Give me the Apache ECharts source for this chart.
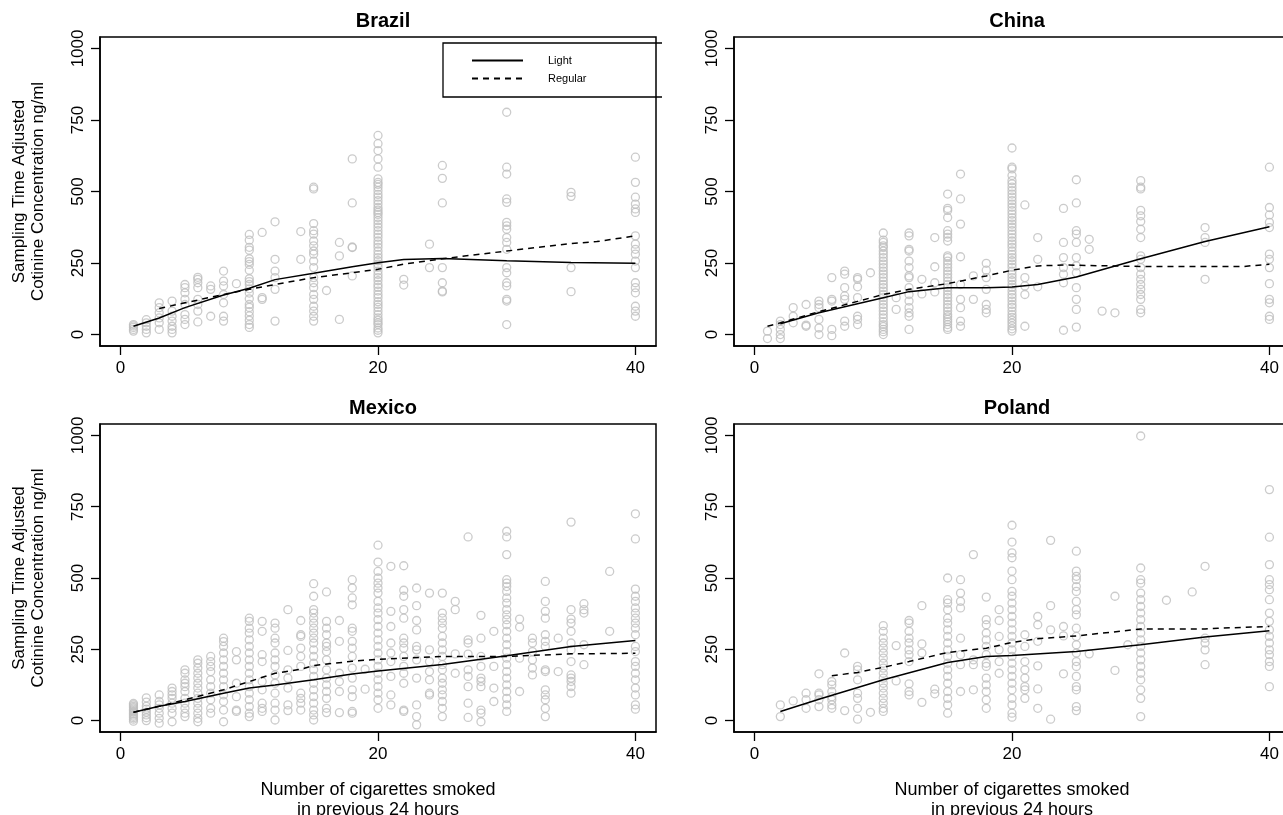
<!DOCTYPE html>
<html>
<head>
<meta charset="utf-8">
<script src="https://cdn.jsdelivr.net/npm/echarts@6/dist/echarts.min.js"></script>
<style>
  html, body { margin: 0; padding: 0; background: #fff; }
  #chart { width: 1283px; height: 815px; }
</style>
</head>
<body>
<div id="chart"></div>
<script>
// tick labels
var xTicks = [0, 20, 40];
var yTicks = [0, 250, 500, 750, 1000];

// Brazil: x columns and the cotinine values read at each column
var brazilX = [1, 2, 3, 4, 5, 6, 7, 8, 9, 10, 11, 12, 14, 15, 16, 17, 18, 20, 22, 24, 25, 30, 35, 40];
var brazilY = [
	[12, 18, 25, 30, 35],
	[6, 18, 29, 41, 52],
	[18, 41, 58, 76, 94, 111],
	[6, 18, 29, 47, 64, 82, 117],
	[35, 53, 70, 105, 123, 146, 164, 175],
	[44, 82, 105, 123, 164, 181, 193, 200],
	[64, 158, 170],
	[47, 64, 111, 140, 170, 187, 222],
	[178],
	[25, 35, 50, 65, 80, 95, 105, 125, 145, 160, 175, 185, 195, 225, 245, 255, 265, 295, 305, 330, 350],
	[123, 129, 357],
	[47, 158, 199, 222, 263, 394],
	[263, 360],
	[47, 64, 82, 99, 123, 140, 164, 181, 199, 234, 257, 281, 292, 310, 327, 351, 363, 388, 509, 515],
	[154],
	[53, 275, 322],
	[205, 304, 306, 460, 614],
	[6, 15, 23, 35, 41, 50, 58, 70, 82, 95, 105, 115, 129, 140, 152, 165, 175, 188, 199, 210, 222, 235, 246, 258, 269, 280, 292, 305, 316, 327, 340, 351, 363, 375, 386, 398, 409, 420, 427, 435, 444, 456, 468, 480, 490, 503, 515, 525, 532, 544, 585, 614, 643, 667, 696],
	[173, 193],
	[234, 316],
	[149, 152, 181, 234, 460, 546, 591],
	[35, 117, 123, 170, 181, 216, 234, 298, 322, 339, 368, 380, 392, 462, 474, 561, 585, 777],
	[150, 234, 483, 497],
	[64, 82, 99, 146, 164, 181, 234, 257, 281, 298, 316, 345, 427, 439, 456, 480, 532, 620]
];
var brazilLightX = [1, 3, 5, 8, 10, 12, 15, 18, 20, 22, 25, 30, 35, 40];
var brazilLight = [29, 58, 94, 138, 162, 192, 214, 237, 251, 262, 266, 258, 252, 249];
var brazilRegularX = [3, 5, 8, 10, 12, 15, 18, 20, 22, 25, 30, 35, 37, 40];
var brazilRegular = [91, 111, 140, 158, 175, 199, 216, 228, 246, 265, 292, 318, 325, 345];

// China
var chinaX = [1, 2, 3, 4, 5, 6, 7, 8, 9, 10, 11, 12, 13, 14, 15, 16, 17, 18, 20, 21, 22, 24, 25, 26, 27, 28, 30, 35, 40];
var chinaY = [
	[-14, 12],
	[-14, 0, 18, 35, 47],
	[41, 64, 94],
	[29, 33, 105],
	[0, 23, 53, 94, 105, 117],
	[-4, 18, 117, 123, 199],
	[29, 47, 123, 135, 164, 211, 222],
	[35, 53, 64, 129, 167, 193, 199],
	[216],
	[0, 10, 18, 28, 35, 45, 58, 70, 82, 94, 105, 117, 129, 140, 152, 164, 175, 187, 199, 211, 222, 234, 246, 257, 269, 281, 292, 304, 310, 322, 330, 355],
	[88, 129],
	[18, 64, 76, 94, 117, 140, 164, 199, 205, 234, 257, 292, 298, 345, 355],
	[142, 193],
	[149, 181, 237, 339],
	[18, 25, 35, 45, 53, 62, 70, 82, 94, 105, 117, 129, 140, 152, 164, 175, 187, 199, 211, 222, 234, 246, 257, 269, 275, 327, 340, 351, 363, 409, 434, 441, 491],
	[29, 47, 94, 123, 175, 272, 386, 474, 561],
	[123, 205],
	[76, 88, 105, 158, 199, 225, 249],
	[12, 20, 30, 40, 50, 60, 70, 82, 95, 105, 117, 129, 140, 152, 165, 175, 188, 199, 210, 222, 235, 246, 258, 269, 280, 292, 305, 316, 327, 339, 351, 363, 375, 386, 398, 409, 421, 433, 445, 456, 468, 480, 491, 503, 515, 527, 538, 556, 579, 585, 652],
	[29, 140, 170, 199, 453],
	[167, 263, 339],
	[15, 181, 211, 234, 269, 322, 441],
	[26, 88, 123, 164, 216, 240, 269, 322, 351, 363, 460, 541],
	[298, 333],
	[82],
	[76],
	[76, 88, 123, 140, 158, 175, 193, 211, 234, 263, 275, 339, 368, 395, 415, 434, 509, 515, 538],
	[193, 322, 339, 374],
	[53, 64, 111, 123, 178, 234, 263, 281, 374, 392, 418, 444, 585]
];
var chinaLightX = [2, 5, 8, 10, 12, 15, 18, 20, 22, 25, 30, 35, 40];
var chinaLight = [38, 76, 108, 129, 150, 164, 164, 166, 175, 201, 265, 325, 377];
var chinaRegularX = [1, 2, 5, 8, 10, 12, 15, 18, 20, 22, 24, 30, 35, 38, 40];
var chinaRegular = [29, 41, 80, 116, 140, 158, 178, 205, 225, 240, 243, 238, 238, 238, 246];

// Mexico
var mexicoX = [1, 2, 3, 4, 5, 6, 7, 8, 9, 10, 11, 12, 13, 14, 15, 16, 17, 18, 19, 20, 21, 22, 23, 24, 25, 26, 27, 28, 29, 30, 31, 32, 33, 34, 35, 36, 38, 40];
var mexicoY = [
	[-2, 5, 10, 15, 20, 25, 30, 35, 40, 45, 50, 55, 60],
	[0, 10, 20, 30, 40, 50, 65, 80],
	[-9, 8, 26, 43, 55, 67, 90],
	[-4, 26, 43, 61, 78, 90, 102, 114],
	[14, 26, 43, 61, 78, 102, 119, 131, 143, 166, 178],
	[-4, 8, 26, 43, 61, 78, 96, 114, 131, 149, 166, 184, 201, 213],
	[26, 43, 73, 96, 119, 143, 172, 190, 207, 225],
	[-4, 37, 67, 90, 119, 143, 166, 190, 213, 237, 260, 277, 289],
	[32, 37, 84, 131, 213, 242],
	[14, 26, 49, 73, 96, 119, 143, 166, 190, 213, 237, 260, 283, 307, 324, 348, 359],
	[32, 43, 61, 108, 137, 207, 231, 313, 348],
	[2, 37, 61, 96, 131, 160, 190, 213, 237, 272, 289, 324, 342],
	[35, 55, 114, 149, 178, 246, 389],
	[37, 61, 78, 96, 190, 225, 254, 295, 301, 351],
	[2, 20, 37, 61, 84, 108, 131, 155, 178, 201, 225, 248, 272, 289, 307, 324, 342, 359, 377, 389, 436, 480],
	[28, 43, 78, 102, 125, 149, 178, 213, 242, 260, 272, 301, 324, 348, 451],
	[28, 102, 137, 166, 278, 351],
	[26, 32, 84, 108, 149, 184, 225, 254, 278, 313, 324, 406, 430, 465, 494],
	[110, 180],
	[43, 73, 96, 119, 143, 166, 190, 213, 237, 260, 283, 307, 330, 354, 377, 395, 418, 447, 465, 482, 500, 523, 556, 615],
	[55, 90, 155, 207, 237, 272, 330, 383, 541],
	[32, 37, 131, 166, 190, 225, 254, 272, 289, 359, 389, 436, 457, 543],
	[-15, 14, 55, 149, 213, 248, 260, 318, 351, 403, 465],
	[90, 96, 143, 172, 207, 248, 447],
	[14, 43, 67, 90, 108, 131, 149, 178, 196, 225, 248, 272, 295, 324, 342, 359, 377, 447],
	[166, 234, 389, 418],
	[11, 61, 119, 155, 178, 233, 272, 283, 644],
	[-4, 26, 37, 119, 137, 149, 190, 225, 289, 369],
	[67, 114, 190, 313],
	[32, 55, 78, 102, 125, 149, 172, 196, 219, 242, 266, 289, 313, 336, 354, 371, 389, 412, 430, 453, 470, 482, 494, 582, 644, 664],
	[102, 219, 328, 356],
	[160, 184, 213, 242, 272, 289],
	[14, 43, 73, 90, 108, 172, 178, 260, 278, 301, 359, 383, 418, 488],
	[172, 289],
	[96, 119, 137, 149, 160, 207, 248, 272, 313, 342, 356, 389, 696],
	[196, 266, 377, 389, 410],
	[313, 523],
	[40, 55, 90, 114, 143, 166, 190, 207, 242, 260, 301, 324, 342, 359, 377, 395, 418, 436, 461, 637, 725]
];
var mexicoLightX = [1, 3, 5, 8, 10, 12, 15, 18, 20, 25, 30, 35, 40];
var mexicoLight = [29, 50, 67, 96, 114, 125, 143, 163, 174, 197, 227, 260, 281];
var mexicoRegularX = [1, 3, 5, 8, 10, 12, 14, 15, 18, 20, 25, 30, 35, 40];
var mexicoRegular = [29, 50, 73, 108, 137, 166, 180, 193, 208, 215, 225, 225, 234, 236];

// Poland
var polandX = [2, 3, 4, 5, 6, 7, 8, 9, 10, 11, 12, 13, 14, 15, 16, 17, 18, 19, 20, 21, 22, 23, 24, 25, 26, 28, 29, 30, 32, 34, 35, 40];
var polandY = [
	[14, 55],
	[69],
	[43, 73, 96],
	[49, 73, 90, 96, 164],
	[43, 55, 73, 84, 102, 125, 137],
	[35, 237],
	[5, 43, 78, 96, 143, 178, 190],
	[29],
	[32, 43, 61, 78, 96, 114, 131, 149, 166, 184, 201, 219, 237, 254, 272, 289, 313, 333],
	[139, 263],
	[90, 102, 129, 207, 231, 248, 272, 289, 313, 342, 351],
	[64, 237, 269, 403],
	[94, 110],
	[26, 55, 78, 102, 131, 155, 178, 201, 225, 248, 272, 295, 318, 342, 359, 389, 412, 424, 500],
	[102, 196, 231, 289, 395, 418, 447, 494],
	[108, 196, 213, 582],
	[43, 73, 102, 125, 149, 190, 201, 231, 260, 283, 307, 336, 354, 433],
	[166, 207, 248, 295, 351, 389],
	[12, 26, 55, 78, 108, 131, 155, 178, 201, 225, 248, 272, 295, 318, 342, 365, 389, 412, 436, 453, 494, 524, 571, 588, 626, 685],
	[78, 108, 119, 149, 178, 207, 260, 301],
	[43, 111, 192, 278, 336, 365],
	[5, 318, 403, 632],
	[164, 297, 330],
	[35, 49, 108, 119, 155, 190, 207, 237, 266, 295, 324, 371, 389, 418, 453, 470, 494, 506, 524, 594],
	[234],
	[176, 436],
	[266],
	[14, 78, 108, 143, 166, 190, 213, 237, 260, 283, 307, 330, 354, 377, 400, 424, 447, 482, 494, 535, 998],
	[422],
	[451],
	[196, 248, 272, 289, 541],
	[119, 190, 207, 231, 248, 272, 295, 318, 348, 377, 424, 459, 477, 494, 547, 643, 810]
];
var polandLightX = [2, 5, 10, 15, 18, 20, 25, 30, 35, 40];
var polandLight = [32, 75, 143, 204, 225, 228, 242, 266, 293, 315];
var polandRegularX = [6, 8, 10, 12, 15, 18, 20, 22, 25, 30, 35, 36, 40];
var polandRegular = [157, 169, 187, 207, 239, 254, 274, 287, 297, 321, 321, 324, 330];

function columns(xs, ys) {
	var out = [];
	xs.forEach(function (x, i) {
		ys[i].forEach(function (v) {
			out.push([x, v]);
		});
	});
	return out;
}

function pairs(xs, ys) {
	return xs.map(function (x, i) {
		return [x, ys[i]];
	});
}

var FONT = "'Liberation Sans', Arial, sans-serif";

var panels = [
	{ title: "Brazil", left: 100, top: 37, height: 309, pts: columns(brazilX, brazilY), light: pairs(brazilLightX, brazilLight), regular: pairs(brazilRegularX, brazilRegular), yName: true, xName: false },
	{ title: "China", left: 734, top: 37, height: 309, pts: columns(chinaX, chinaY), light: pairs(chinaLightX, chinaLight), regular: pairs(chinaRegularX, chinaRegular), yName: false, xName: false },
	{ title: "Mexico", left: 100, top: 424, height: 308, pts: columns(mexicoX, mexicoY), light: pairs(mexicoLightX, mexicoLight), regular: pairs(mexicoRegularX, mexicoRegular), yName: true, xName: true },
	{ title: "Poland", left: 734, top: 424, height: 308, pts: columns(polandX, polandY), light: pairs(polandLightX, polandLight), regular: pairs(polandRegularX, polandRegular), yName: false, xName: true }
];
var PANEL_W = 556;

var chart = echarts.init(document.getElementById("chart"));

var option = {
	backgroundColor: "#fff",
	animation: false,
	title: [],
	grid: [],
	xAxis: [],
	yAxis: [],
	series: [],
	legend: {
		data: ["Light", "Regular"],
		orient: "vertical",
		left: 471,
		top: 55,
		itemWidth: 51,
		itemHeight: 10,
		itemGap: 7,
		padding: 0,
		selectedMode: false,
		itemStyle: { color: "rgba(0,0,0,0)", borderWidth: 0, opacity: 0 },
		textStyle: {
			fontFamily: FONT,
			fontSize: 11,
			color: "#000",
			padding: [0, 0, 0, 20]
		}
	},
	graphic: [
		{
			type: "polyline",
			shape: { points: [[662, 43], [443, 43], [443, 97], [662, 97]] },
			style: { stroke: "#000", lineWidth: 1.3, fill: null }
		}
	]
};

panels.forEach(function (p, i) {
	option.title.push({
		text: p.title,
		left: p.left + PANEL_W / 2,
		top: p.top - 31,
		textAlign: "center",
		textStyle: { fontFamily: FONT, fontSize: 20, fontWeight: "bold", color: "#000" }
	});
	option.grid.push({
		left: p.left,
		top: p.top,
		width: PANEL_W,
		height: p.height,
		outerBoundsMode: "none",
		containLabel: false,
		show: true,
		borderColor: "#000",
		borderWidth: 1.5,
		backgroundColor: "transparent"
	});
	option.xAxis.push({
		gridIndex: i,
		type: "value",
		min: -1.6,
		max: 41.6,
		axisLine: { show: true, onZero: false, lineStyle: { color: "#000", width: 1.5 } },
		splitLine: { show: false },
		axisTick: { show: true, customValues: xTicks, length: 9, lineStyle: { color: "#000", width: 1.3 } },
		axisLabel: { customValues: xTicks, fontFamily: FONT, fontSize: 17, color: "#000", margin: 14,
			formatter: function (v) { return String(v); } },
		name: p.xName ? "Number of cigarettes smoked\nin previous 24 hours" : "",
		nameLocation: "middle",
		nameGap: 48,
		nameTextStyle: { fontFamily: FONT, fontSize: 18, color: "#000", lineHeight: 20 }
	});
	option.yAxis.push({
		gridIndex: i,
		type: "value",
		min: -40,
		max: 1040,
		axisLine: { show: true, onZero: false, lineStyle: { color: "#000", width: 1.5 } },
		splitLine: { show: false },
		axisTick: { show: true, customValues: yTicks, length: 9, lineStyle: { color: "#000", width: 1.3 } },
		axisLabel: { customValues: yTicks, rotate: 90, fontFamily: FONT, fontSize: 17, color: "#000", margin: 13,
			formatter: function (v) { return String(v); } },
		name: p.yName ? "Sampling Time Adjusted\nCotinine Concentration ng/ml" : "",
		nameLocation: "middle",
		nameRotate: 90,
		nameGap: 52,
		nameTextStyle: { fontFamily: FONT, fontSize: 17, color: "#000", lineHeight: 19 }
	});
	option.series.push({
		name: p.title + " samples",
		type: "scatter",
		xAxisIndex: i,
		yAxisIndex: i,
		data: p.pts,
		symbol: "circle",
		symbolSize: 8,
		itemStyle: { color: "rgba(255,255,255,0)", borderColor: "#bebebe", borderWidth: 1.3 },
		emphasis: { disabled: true }
	});
	option.series.push({
		name: "Light",
		type: "line",
		xAxisIndex: i,
		yAxisIndex: i,
		data: p.light,
		symbol: "none",
		lineStyle: { color: "#000", width: 1.5, type: "solid" },
		itemStyle: { color: "#000" }
	});
	option.series.push({
		name: "Regular",
		type: "line",
		xAxisIndex: i,
		yAxisIndex: i,
		data: p.regular,
		symbol: "none",
		lineStyle: { color: "#000", width: 1.5, type: [6, 5] },
		itemStyle: { color: "#000" }
	});
});

chart.setOption(option);
</script>
</body>
</html>
